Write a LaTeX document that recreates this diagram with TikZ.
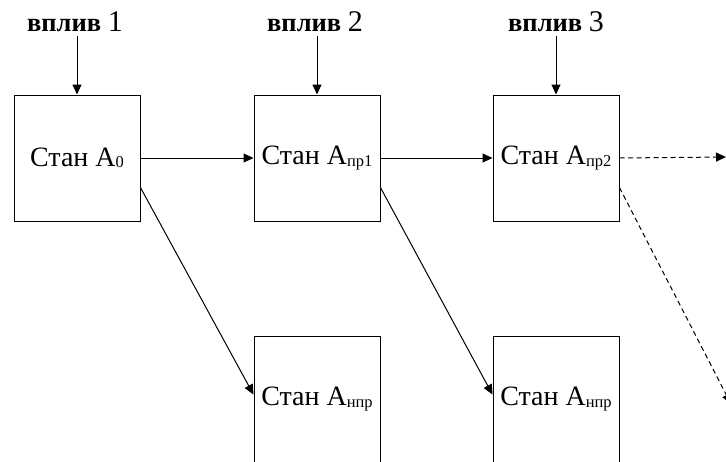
\documentclass[tikz,border=0pt]{standalone}
\usepackage{fontspec}
\setmainfont{Liberation Serif}
\usetikzlibrary{arrows.meta}
\tikzset{
  state/.style={draw, line width=1pt, minimum width=126pt, minimum height=126pt,
    inner sep=0pt, font=\fontsize{28}{32}\selectfont},
  influence/.style={font=\bfseries\fontsize{26.5}{30}\selectfont, inner sep=0pt, anchor=base},
  flow/.style={line width=1pt, -{Triangle[length=10pt,width=9pt]}},
  maybe/.style={flow, dash pattern=on 5pt off 3.5pt},
}
\newcommand{\idx}[1]{\raisebox{-1.5pt}{\fontsize{16.5}{17}\selectfont #1}}
\newcommand{\num}[1]{{\mdseries\fontsize{30}{30}\selectfont #1}}
\begin{document}
\begin{tikzpicture}[x=1pt,y=-1pt]
  \useasboundingbox (0,0) rectangle (726,461);
  \clip (0,0) rectangle (726,461);
  % upper row of states
  \node[state] (a0) at (77,158) {Стан А\idx{0}};
  \node[state] (a1) at (317,158) {Стан А\idx{пр1}};
  \node[state] (a2) at (556,158) {Стан А\idx{пр2}};
  % lower row of states
  \node[state] (b1) at (317,399) {Стан А\idx{нпр}};
  \node[state] (b2) at (556,399) {Стан А\idx{нпр}};
  % influences
  \node[influence] (v1) at (75,31) {вплив \num{1}};
  \node[influence] (v2) at (315,31) {вплив \num{2}};
  \node[influence] (v3) at (556,31) {вплив \num{3}};
  \draw[flow] (a0.north |- v1.south) ++(0,5) -- (a0.north);
  \draw[flow] (a1.north |- v2.south) ++(0,5) -- (a1.north);
  \draw[flow] (a2.north |- v3.south) ++(0,5) -- (a2.north);
  % transitions
  \coordinate (e1) at (726,157);
  \coordinate (e2) at (731,404);
  \draw[flow] (a0) -- (a1);
  \draw[flow] (a1) -- (a2);
  \draw[maybe] (a2.east) -- (e1);
  \draw[flow] (a0.-25.5) -- (b1.176);
  \draw[flow] (a1.-25.5) -- (b2.176);
  \draw[maybe] (a2.-25.5) -- (e2);
\end{tikzpicture}
\end{document}
